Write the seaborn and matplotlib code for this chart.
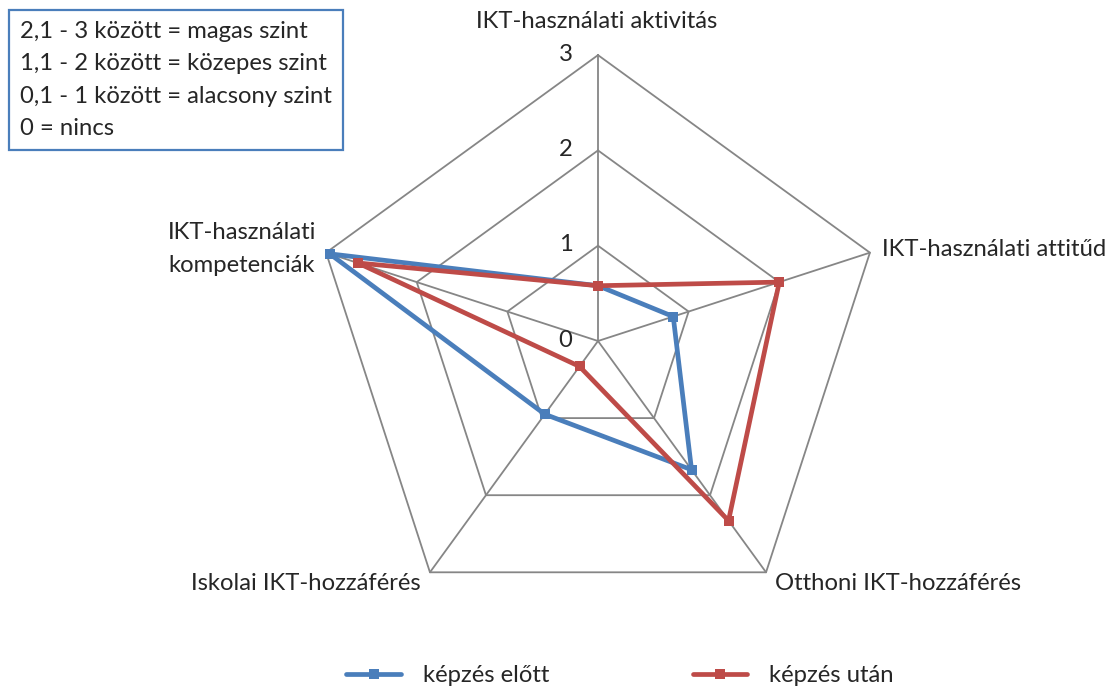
import numpy as np
import pandas as pd
import seaborn as sns
import matplotlib.pyplot as plt
from matplotlib.lines import Line2D

# adatok
kategoriak = ["IKT-használati aktivitás", "IKT-használati attitűd", "Otthoni IKT-hozzáférés",
              "Iskolai IKT-hozzáférés", "IKT-használati\nkompetenciák"]
elotte = [0.58, 0.83, 1.67, 0.95, 2.96]
utana = [0.58, 2.0, 2.33, 0.33, 2.65]
sorozatok = ["képzés előtt", "képzés után"]
szintek = [0, 1, 2, 3]
szoveg = "2,1 - 3 között = magas szint\n1,1 - 2 között = közepes szint\n0,1 - 1 között = alacsony szint\n0 = nincs"

kek = "#4a7ebb"
piros = "#be4b48"
racs = "#868686"
fs = 17.2

sns.set_style("white")
plt.rcParams["font.family"] = ["Lato", "DejaVu Sans"]

W, H = 1119, 689
fig = plt.figure(figsize=(W / 100, H / 100), dpi=100)
ax = fig.add_axes([0, 0, 1, 1])
cx, cy, egys = 598, 341, 95.3
ax.set_xlim(-cx / egys, (W - cx) / egys)
ax.set_ylim(-(H - cy) / egys, cy / egys)
ax.axis("off")

n = len(kategoriak)
szogek = np.pi / 2 - np.arange(n) * 2 * np.pi / n


def xy(r):
    r = np.asarray(r, dtype=float)
    return r * np.cos(szogek), r * np.sin(szogek)


def px(x, y):
    return (x - cx) / egys, (cy - y) / egys


# racs: sokszogek es kullok
for lv in szintek[1:]:
    x, y = xy([lv] * n)
    ax.plot(np.append(x, x[0]), np.append(y, y[0]), color=racs, lw=1.3, zorder=1)
vx, vy = xy([3] * n)
for i in range(n):
    ax.plot([0, vx[i]], [0, vy[i]], color=racs, lw=1.3, zorder=1)

# szint-feliratok
for lv in szintek:
    ax.text(-0.34, lv + 0.01, str(lv), ha="center", va="center", fontsize=fs)

# adatsorok
sorok = []
for nev, ertek in zip(sorozatok, [elotte, utana]):
    x, y = xy(ertek)
    for j in list(range(n)) + [0]:
        sorok.append({"x": x[j], "y": y[j], "sorozat": nev})
df = pd.DataFrame(sorok)
sns.lineplot(data=df, x="x", y="y", hue="sorozat", palette=[kek, piros], sort=False,
             estimator=None, lw=3.4, marker="s", markersize=6.5, markeredgewidth=0,
             legend=False, ax=ax, zorder=3)

# kategoriacimkek (pixelben megadott helyek)
cimke_helyek = [((597, 22), "center"), ((882, 250), "left"), ((775, 583), "left"),
                ((421, 583), "right"), ((242, 249), "center")]
for (p, ha), c in zip(cimke_helyek, kategoriak):
    ax.text(*px(*p), c, ha=ha, va="center", fontsize=fs, linespacing=1.7)

# magyarazo doboz
ax.text(*px(20, 80), szoveg, ha="left", va="center", fontsize=fs, linespacing=1.68,
        bbox=dict(boxstyle="square,pad=0.45", fc="white", ec=kek, lw=1.6))

# jelmagyarazat
kezelok = [Line2D([], [], color=c, lw=3.4, marker="s", markersize=6.5, markeredgewidth=0)
           for c in [kek, piros]]
ax.legend(kezelok, sorozatok, loc="center", bbox_to_anchor=(px(620, 676)), bbox_transform=ax.transData,
          ncol=2, frameon=False, fontsize=fs, handlelength=2.3, columnspacing=6.0, handletextpad=0.9)

fig.savefig("out.png", dpi=100)
